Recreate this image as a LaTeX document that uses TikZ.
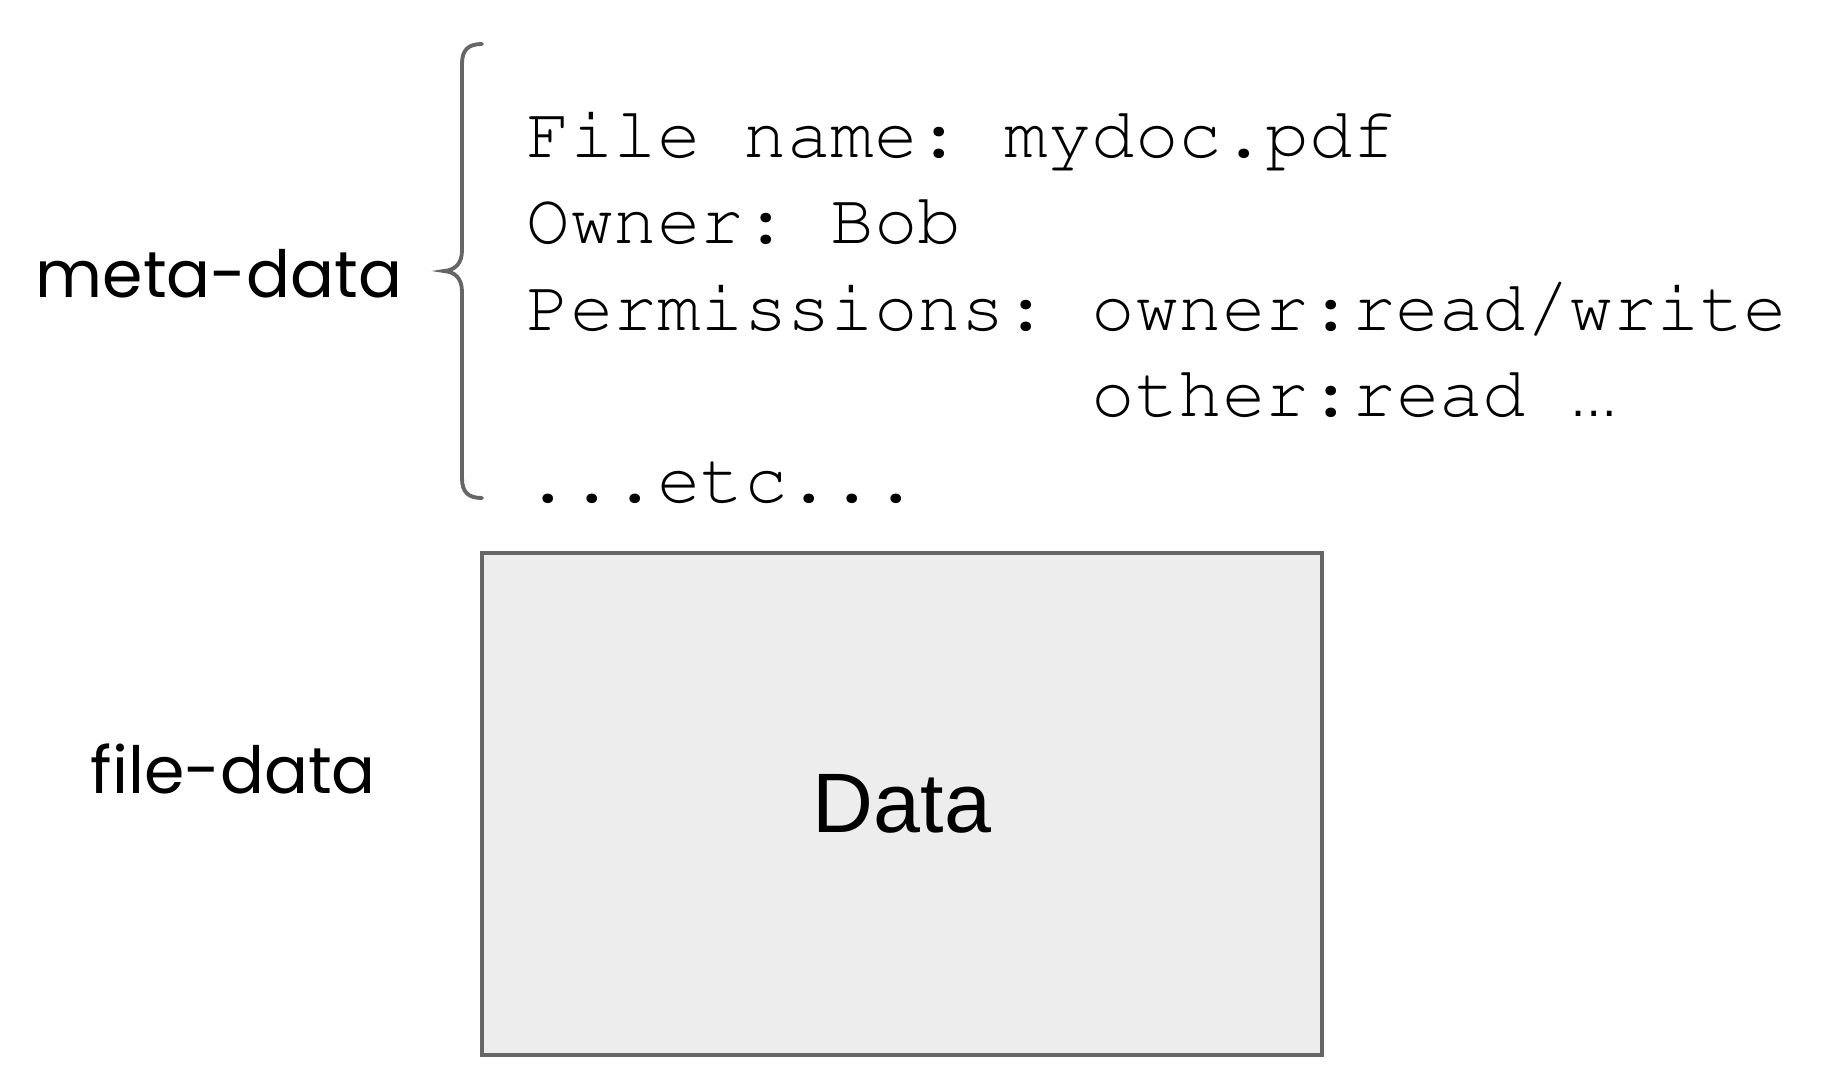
\documentclass[tikz,border=0pt]{standalone}
\usepackage{fontspec}
\setmainfont{Liberation Sans}
\newfontfamily\handfont{Poppins}
\newcommand\courierfont{\fontencoding{T1}\fontfamily{pcr}\selectfont}
\begin{document}
\frenchspacing
\begin{tikzpicture}[x=0.01cm, y=-0.01cm,
    listing/.style={anchor=base west, inner sep=0pt, font=\courierfont\fontsize{20.6}{24}\selectfont},
    handlabel/.style={anchor=base west, inner sep=0pt, font=\handfont\fontsize{18.5}{22}\selectfont},
    bracket/.style={draw=black!60, line width=1.1pt, line cap=round}]
                \useasboundingbox (0,0) rectangle (1824,1084);
                \node[handlabel] (metalabel) at (35,297) {meta-data};
                \node[handlabel] (filelabel) at (90,793) {file-data};
                \draw[bracket] (482,44) .. controls (468,44) and (462,50) .. (462,64) -- (462,250)
                    .. controls (462,264) and (455,270) .. (444,271)
                    .. controls (455,272) and (462,278) .. (462,292) -- (462,478)
                    .. controls (462,492) and (468,498) .. (482,498);
                \node[listing] (fname) at (526,157) {File name: mydoc.pdf};
                \node[listing] (owner) at (526,243) {Owner: Bob};
                \node[listing] (perms) at (526,330) {Permissions: owner:read/write};
                \node[listing] (other) at (526,416) {\phantom{Permissions:\ }other:read {\fontencoding{TU}\rmfamily\fontsize{14}{16}\selectfont …}};
                \node[listing] (etc) at (526,502) {...etc...};
                \node[draw=black!60, line width=1.1pt, fill=black!7, minimum width=8.4cm, minimum height=5.01cm,
                    font=\fontsize{24}{28}\selectfont] (datafile) at (902,804) {Data};
            \end{tikzpicture}
\end{document}
